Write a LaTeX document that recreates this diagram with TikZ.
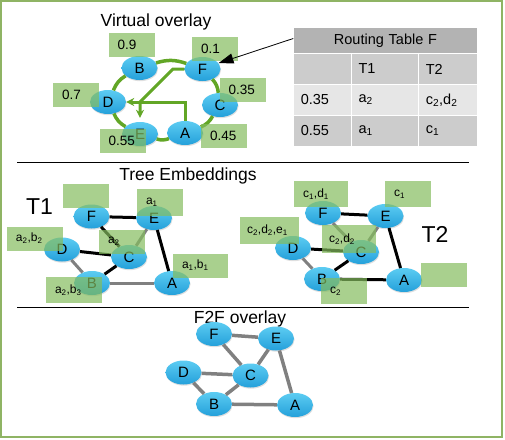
\documentclass[tikz,border=0pt]{standalone}
\usepackage{fontspec}
\setmainfont{Liberation Sans}
\usepackage{tikz}
\usetikzlibrary{arrows.meta,positioning,shapes.geometric,shadows}
\definecolor{nodeTop}{RGB}{92, 204, 242}
\definecolor{nodeBot}{RGB}{36, 160, 218}
\definecolor{ringGreen}{RGB}{98, 166, 38}
\definecolor{tagGreen}{RGB}{132, 188, 94}
\definecolor{frameGreen}{RGB}{143, 180, 100}
\definecolor{edgeGray}{RGB}{128, 128, 128}
\definecolor{headGray}{RGB}{179, 179, 179}
\definecolor{midGray}{RGB}{204, 204, 204}
\definecolor{paleGray}{RGB}{230, 230, 230}

\begin{document}
\begin{tikzpicture}[
    x=1pt, y=-1pt,
    font=\fontsize{15}{17}\selectfont,
    >=Stealth,
    % Peer Node Style
    peerNode/.style={
        ellipse,
        minimum width=36pt,
        minimum height=24pt,
        inner sep=0pt,
        top color=nodeTop,
        bottom color=nodeBot,
        drop shadow={shadow xshift=0.6pt, shadow yshift=-1.2pt, opacity=0.25}
    },
    % Green label tag - translucent, text left aligned
    tagBox/.style={
        fill=tagGreen,
        fill opacity=0.7,
        text opacity=1,
        minimum height=24pt,
        inner xsep=9pt,
        inner ysep=0pt,
        text width=#1,
        align=left,
        font=\fontsize{13.5}{15}\selectfont
    },
    tagBox/.default=28pt,
    smallTag/.style={font=\fontsize{12}{14}\selectfont},
    % Section titles
    titleText/.style={font=\fontsize{17.5}{20}\selectfont},
    treeText/.style={font=\fontsize{23}{26}\selectfont},
    % Connector styles
    ringEdge/.style={draw=ringGreen, line width=3.5pt},
    flowArrow/.style={
        -{Stealth[length=8pt,width=8pt]},
        draw=ringGreen,
        line width=3pt
    },
    tableArrow/.style={
        -{Triangle[length=15pt,width=10pt]},
        line width=0.8pt
    },
    treeEdge/.style={draw=black, line width=3pt},
    spareEdge/.style={draw=edgeGray, line width=3pt},
    f2fEdge/.style={draw=edgeGray, line width=3.5pt},
    % Routing table cell
    rtCell/.style={
        draw=white,
        line width=1pt,
        minimum height=31pt,
        inner xsep=7pt,
        inner ysep=0pt,
        text width=#1,
        align=left,
        anchor=north west,
        font=\fontsize{14.5}{16}\selectfont
    }
]

    \useasboundingbox (0,0) rectangle (505,439);
    \draw[frameGreen, line width=2pt] (1,1) rectangle (502,436.5);

    % Section separators
    \draw[line width=1.5pt] (17,162.3) -- (469,162.3);
    \draw[line width=1.5pt] (17,307.3) -- (469,307.3);

    % ---------------- Virtual overlay ----------------
    \node[titleText] (vTitle) at (156,22) {Virtual overlay};

    \node[peerNode] (ovB) at (139.5,68) {B};
    \node[peerNode] (ovF) at (202.5,69) {F};
    \node[peerNode] (ovD) at (108,102) {D};
    \node[peerNode] (ovC) at (220,105) {C};
    \node[peerNode] (ovE) at (140,134) {E};
    \node[peerNode] (ovA) at (185,133) {A};

    % Ring of the overlay
    \foreach \a/\b in {B/F, F/C, C/A, A/E, E/D, D/B}
        \draw[ringEdge] (ov\a) to[bend left=18] (ov\b);

    % Routed paths
    \draw[flowArrow] (ovF.west) -- (173,69) -- (140,102) -- ([yshift=4pt]ovE.north);
    \draw[flowArrow] (ovA.north) |- (ovD.east);

    % Distance tags
    \node[tagBox] (tagB) at (131.5,45) {0.9};
    \node[tagBox] (tagF) at (215,48.5) {0.1};
    \node[tagBox] (tagD) at (76,94.5) {0.7};
    \node[tagBox] (tagC) at (242.5,89.5) {0.35};
    \node[tagBox] (tagE) at (122.5,141) {0.55};
    \node[tagBox] (tagA) at (224,135.5) {0.45};

    % Routing table of F
    \node[rtCell=169.4pt, fill=headGray, minimum height=26pt, align=center]
        (rtHead) at (293.3,27) {Routing Table F};
    \node[rtCell=43.7pt, fill=midGray]  (rt11) at (293.3,53)  {};
    \node[rtCell=53.3pt, fill=midGray]  (rt12) at (351,53)    {T1};
    \node[rtCell=44.4pt, fill=midGray]  (rt13) at (418.3,53)  {T2};
    \node[rtCell=43.7pt, fill=paleGray] (rt21) at (293.3,84)  {0.35};
    \node[rtCell=53.3pt, fill=paleGray] (rt22) at (351,84)    {a\textsubscript{2}};
    \node[rtCell=44.4pt, fill=paleGray] (rt23) at (418.3,84)  {c\textsubscript{2},d\textsubscript{2}};
    \node[rtCell=43.7pt, fill=midGray]  (rt31) at (293.3,115) {0.55};
    \node[rtCell=53.3pt, fill=midGray]  (rt32) at (351,115)   {a\textsubscript{1}};
    \node[rtCell=44.4pt, fill=midGray]  (rt33) at (418.3,115) {c\textsubscript{1}};

    \draw[tableArrow] ([yshift=2pt]rtHead.west) -- (ovF.20);

    % ---------------- Tree embeddings ----------------
    \node[titleText] (tTitle) at (188,176) {Tree Embeddings};
    \node[treeText] (tOne) at (39.5,207) {T1};
    \node[treeText] (tTwo) at (435,234) {T2};

    % T1
    \node[peerNode] (t1F) at (91.5,216.5) {F};
    \node[peerNode] (t1E) at (154,218) {E};
    \node[peerNode] (t1D) at (62,249.5) {D};
    \node[peerNode] (t1C) at (129,257) {C};
    \node[peerNode] (t1B) at (92,283) {B};
    \node[peerNode] (t1A) at (172,283) {A};

    \foreach \a/\b in {F/E, F/C, D/C, B/C, E/A}
        \draw[treeEdge] (t1\a) -- (t1\b);
    \foreach \a/\b in {E/C, D/B, B/A}
        \draw[spareEdge] (t1\a) -- (t1\b);

    % T2
    \node[peerNode] (t2F) at (323,213) {F};
    \node[peerNode] (t2E) at (385.5,216) {E};
    \node[peerNode] (t2D) at (293,248) {D};
    \node[peerNode] (t2C) at (361,252) {C};
    \node[peerNode] (t2B) at (322,279) {B};
    \node[peerNode] (t2A) at (404,280) {A};

    \foreach \a/\b in {F/E, D/C, B/C, B/A, E/A}
        \draw[treeEdge] (t2\a) -- (t2\b);
    \foreach \a/\b in {F/C, E/C, D/B}
        \draw[spareEdge] (t2\a) -- (t2\b);

    % Coordinate tags of T1
    \node[tagBox, smallTag] (t1tagF) at (86,196) {};
    \node[tagBox, smallTag, minimum height=27pt] (t1tagE) at (160,202) {a\textsubscript{1}};
    \node[tagBox=38pt, smallTag] (t1tagD) at (35,238.5) {a\textsubscript{2},b\textsubscript{2}};
    \node[tagBox, smallTag] (t1tagC) at (122,241.5) {a\textsubscript{2}};
    \node[tagBox=37pt, smallTag] (t1tagA) at (200.5,265.5) {a\textsubscript{1},b\textsubscript{1}};
    \node[tagBox=38pt, smallTag, minimum height=26pt] (t1tagB) at (74,290) {a\textsubscript{2},b\textsubscript{3}};

    % Coordinate tags of T2
    \node[tagBox=36pt, smallTag, minimum height=26pt] (t2tagF) at (321,194) {c\textsubscript{1},d\textsubscript{1}};
    \node[tagBox, smallTag, minimum height=26pt] (t2tagE) at (408,194) {c\textsubscript{1}};
    \node[tagBox=45pt, smallTag, minimum height=27pt, inner xsep=7pt] (t2tagD) at (269.5,230.5) {c\textsubscript{2},d\textsubscript{2},e\textsubscript{1}};
    \node[tagBox=40pt, smallTag, minimum height=28pt, inner xsep=7pt] (t2tagC) at (349,239) {c\textsubscript{2},d\textsubscript{2}};
    \node[tagBox, smallTag] (t2tagA) at (444,275) {};
    \node[tagBox, smallTag, minimum height=26pt] (t2tagB) at (344,291) {c\textsubscript{2}};

    % ---------------- F2F overlay ----------------
    \node[titleText] (fTitle) at (240,318.5) {F2F overlay};

    \node[peerNode] (ffF) at (214,334) {F};
    \node[peerNode] (ffE) at (276,338.5) {E};
    \node[peerNode] (ffD) at (183.5,372.5) {D};
    \node[peerNode] (ffC) at (250.5,375.5) {C};
    \node[peerNode] (ffB) at (214,404) {B};
    \node[peerNode] (ffA) at (295,405) {A};

    \foreach \a/\b in {F/E, F/C, E/C, E/A, D/C, D/B, B/C, B/A}
        \draw[f2fEdge] (ff\a) -- (ff\b);

\end{tikzpicture}
\end{document}
